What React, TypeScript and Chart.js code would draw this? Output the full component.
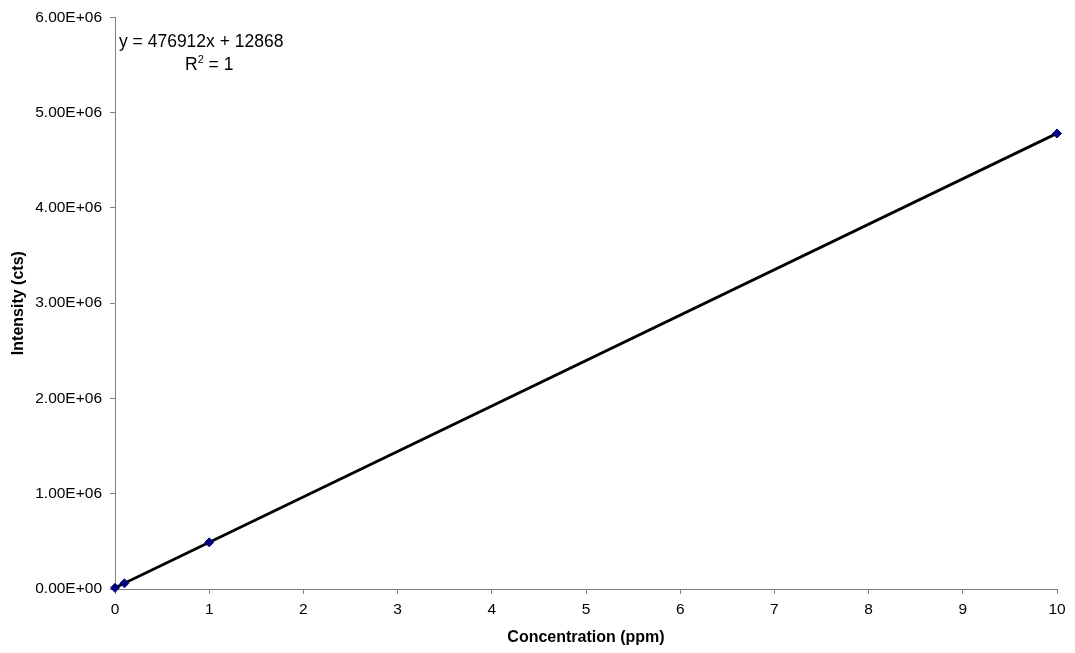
import React, { useEffect, useRef } from "react";
import { Chart, registerables } from "chart.js";

Chart.register(...registerables);

// Calibration standards
const concentrations = [0, 0.1, 1, 10];
const intensities = [12000, 60000, 490000, 4781000];

// Linear fit reported on the chart
const slope = 476912;
const intercept = 12868;
const fitRange = [0, 10];
const equationText = "y = 476912x + 12868";
const r2Parts = ["R", "2", " = 1"];

const yTicks = [0, 1e6, 2e6, 3e6, 4e6, 5e6, 6e6];

const FAMILY = "'Liberation Sans', Arial, sans-serif";

function sci(v: number): string {
  if (v === 0) return "0.00E+00";
  const exp = Math.floor(Math.log10(Math.abs(v)));
  const mant = v / Math.pow(10, exp);
  const sign = exp < 0 ? "-" : "+";
  const e = String(Math.abs(exp)).padStart(2, "0");
  return `${mant.toFixed(2)}E${sign}${e}`;
}

const equationPlugin = {
  id: "equationLabel",
  afterDraw(chart: any) {
    const { ctx, chartArea } = chart;
    ctx.save();
    ctx.fillStyle = "#000";
    ctx.textAlign = "left";
    ctx.textBaseline = "alphabetic";
    const big = `17.5px ${FAMILY}`;
    const small = `11px ${FAMILY}`;
    const x0 = chartArea.left + 4;
    ctx.font = big;
    ctx.fillText(equationText, x0, chartArea.top + 30);
    let x = x0 + 66;
    const yb = chartArea.top + 53;
    ctx.fillText(r2Parts[0], x, yb);
    x += ctx.measureText(r2Parts[0]).width;
    ctx.font = small;
    ctx.fillText(r2Parts[1], x, yb - 7);
    x += ctx.measureText(r2Parts[1]).width;
    ctx.font = big;
    ctx.fillText(r2Parts[2], x, yb);
    ctx.restore();
  },
};

export default function App() {
  const ref = useRef<HTMLCanvasElement>(null);

  useEffect(() => {
    document.body.style.margin = "0";
    const canvas = ref.current!;
    const axisColor = "#808080";
    const tickFont = { family: FAMILY, size: 15.5 };
    const titleFont = { family: FAMILY, size: 16, weight: "bold" as const };
    const chart = new Chart(canvas, {
      type: "scatter",
      data: {
        datasets: [
          {
            type: "line",
            label: "Linear fit",
            data: fitRange.map((x) => ({ x, y: slope * x + intercept })),
            borderColor: "#000",
            borderWidth: 2.75,
            pointRadius: 0,
            fill: false,
            order: 1,
          },
          {
            label: "Standards",
            data: concentrations.map((x, i) => ({ x, y: intensities[i] })),
            pointStyle: "rectRot",
            pointRadius: 4.5,
            backgroundColor: "#000080",
            borderColor: "#000080",
            borderWidth: 1,
            clip: false,
            order: 0,
          },
        ],
      },
      options: {
        animation: false,
        responsive: false,
        layout: { padding: { top: 12, right: 18, left: 0, bottom: 0 } },
        plugins: { legend: { display: false }, tooltip: { enabled: false } },
        scales: {
          x: {
            type: "linear",
            min: 0,
            max: 10,
            afterFit: (axis: any) => {
              axis.height = 64;
            },
            ticks: { stepSize: 1, color: "#000", font: tickFont, padding: 6 },
            grid: { drawOnChartArea: false, drawTicks: true, tickLength: 5, color: axisColor },
            border: { color: axisColor, width: 1 },
            title: {
              display: true,
              text: "Concentration (ppm)",
              color: "#000",
              font: titleFont,
              padding: { top: 4, bottom: 6 },
            },
          },
          y: {
            type: "linear",
            min: 0,
            max: 6e6,
            afterBuildTicks: (axis: any) => {
              axis.ticks = yTicks.map((v) => ({ value: v }));
            },
            afterFit: (axis: any) => {
              axis.width = 115;
            },
            ticks: { color: "#000", font: tickFont, padding: 8, callback: (v: any) => sci(Number(v)) },
            grid: { drawOnChartArea: false, drawTicks: true, tickLength: 5, color: axisColor },
            border: { color: axisColor, width: 1 },
            title: {
              display: true,
              text: "Intensity (cts)",
              color: "#000",
              font: titleFont,
              padding: { top: 9, bottom: 0 },
            },
          },
        },
      },
      plugins: [equationPlugin],
    });
    return () => chart.destroy();
  }, []);

  return (
    <div style={{ position: "fixed", left: 0, top: 0, width: 1075, height: 653 }}>
      <canvas ref={ref} width={1075} height={653} />
    </div>
  );
}
